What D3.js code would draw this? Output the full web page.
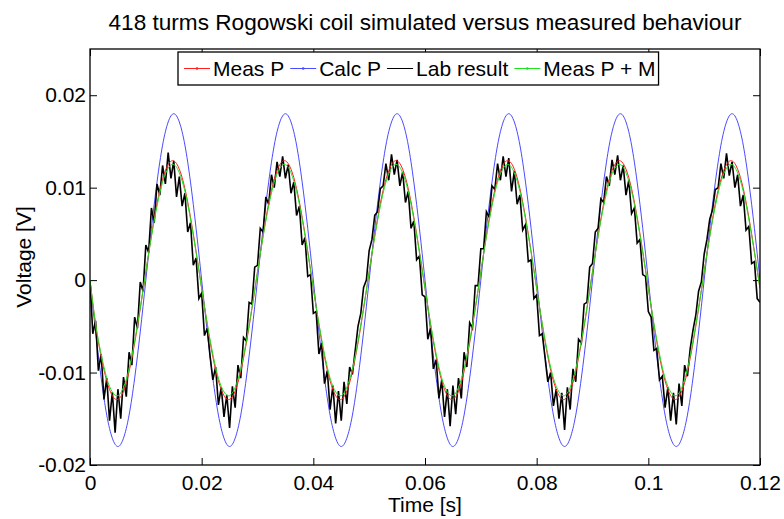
<!DOCTYPE html>
<html>
<head>
<meta charset="utf-8">
<script src="https://cdn.jsdelivr.net/npm/d3@7"></script>
<style>
  body { margin: 0; background: #fff; }
  svg text { font-family: "Liberation Sans", Arial, sans-serif; }
</style>
</head>
<body>
<svg id="chart"></svg>
<script>
//// DATA

// sample steps of the two kinds of series
const dtModel = 0.001;
const dtLab = 0.0005;

const xTicks = [0, 0.02, 0.04, 0.06, 0.08, 0.1, 0.12];
const yTicks = [-0.02, -0.01, 0, 0.01, 0.02];

// Calc P (blue)
const calcP = [
  0, -0.0056, -0.0106, -0.0146, -0.0171, -0.0180, -0.0171, -0.0146, -0.0106, -0.0056,
  0, 0.0056, 0.0106, 0.0146, 0.0171, 0.0180, 0.0171, 0.0146, 0.0106, 0.0056,
  0, -0.0056, -0.0106, -0.0146, -0.0171, -0.0180, -0.0171, -0.0146, -0.0106, -0.0056,
  0, 0.0056, 0.0106, 0.0146, 0.0171, 0.0180, 0.0171, 0.0146, 0.0106, 0.0056,
  0, -0.0056, -0.0106, -0.0146, -0.0171, -0.0180, -0.0171, -0.0146, -0.0106, -0.0056,
  0, 0.0056, 0.0106, 0.0146, 0.0171, 0.0180, 0.0171, 0.0146, 0.0106, 0.0056,
  0, -0.0056, -0.0106, -0.0146, -0.0171, -0.0180, -0.0171, -0.0146, -0.0106, -0.0056,
  0, 0.0056, 0.0106, 0.0146, 0.0171, 0.0180, 0.0171, 0.0146, 0.0106, 0.0056,
  0, -0.0056, -0.0106, -0.0146, -0.0171, -0.0180, -0.0171, -0.0146, -0.0106, -0.0056,
  0, 0.0056, 0.0106, 0.0146, 0.0171, 0.0180, 0.0171, 0.0146, 0.0106, 0.0056,
  0, -0.0056, -0.0106, -0.0146, -0.0171, -0.0180, -0.0171, -0.0146, -0.0106, -0.0056,
  0, 0.0056, 0.0106, 0.0146, 0.0171, 0.0180, 0.0171, 0.0146, 0.0106, 0.0056,
  0
];

// Meas P (red)
const measP = [
  0, -0.0048, -0.0083, -0.0109, -0.0125, -0.0129, -0.0120, -0.0099, -0.0068, -0.0031,
  0.0009, 0.0048, 0.0083, 0.0109, 0.0125, 0.0129, 0.0120, 0.0099, 0.0068, 0.0031,
  -0.0009, -0.0048, -0.0083, -0.0109, -0.0125, -0.0129, -0.0120, -0.0099, -0.0068, -0.0031,
  0.0009, 0.0048, 0.0083, 0.0109, 0.0125, 0.0129, 0.0120, 0.0099, 0.0068, 0.0031,
  -0.0009, -0.0048, -0.0083, -0.0109, -0.0125, -0.0129, -0.0120, -0.0099, -0.0068, -0.0031,
  0.0009, 0.0048, 0.0083, 0.0109, 0.0125, 0.0129, 0.0120, 0.0099, 0.0068, 0.0031,
  -0.0009, -0.0048, -0.0083, -0.0109, -0.0125, -0.0129, -0.0120, -0.0099, -0.0068, -0.0031,
  0.0009, 0.0048, 0.0083, 0.0109, 0.0125, 0.0129, 0.0120, 0.0099, 0.0068, 0.0031,
  -0.0009, -0.0048, -0.0083, -0.0109, -0.0125, -0.0129, -0.0120, -0.0099, -0.0068, -0.0031,
  0.0009, 0.0048, 0.0083, 0.0109, 0.0125, 0.0129, 0.0120, 0.0099, 0.0068, 0.0031,
  -0.0009, -0.0048, -0.0083, -0.0109, -0.0125, -0.0129, -0.0120, -0.0099, -0.0068, -0.0031,
  0.0009, 0.0048, 0.0083, 0.0109, 0.0125, 0.0129, 0.0120, 0.0099, 0.0068, 0.0031,
  -0.0009
];

// Meas P + M (green)
const measPM = [
  0, -0.0047, -0.0080, -0.0106, -0.0121, -0.0125, -0.0116, -0.0096, -0.0066, -0.0030,
  0.0009, 0.0047, 0.0080, 0.0106, 0.0121, 0.0125, 0.0116, 0.0096, 0.0066, 0.0030,
  -0.0009, -0.0047, -0.0080, -0.0106, -0.0121, -0.0125, -0.0116, -0.0096, -0.0066, -0.0030,
  0.0009, 0.0047, 0.0080, 0.0106, 0.0121, 0.0125, 0.0116, 0.0096, 0.0066, 0.0030,
  -0.0009, -0.0047, -0.0080, -0.0106, -0.0121, -0.0125, -0.0116, -0.0096, -0.0066, -0.0030,
  0.0009, 0.0047, 0.0080, 0.0106, 0.0121, 0.0125, 0.0116, 0.0096, 0.0066, 0.0030,
  -0.0009, -0.0047, -0.0080, -0.0106, -0.0121, -0.0125, -0.0116, -0.0096, -0.0066, -0.0030,
  0.0009, 0.0047, 0.0080, 0.0106, 0.0121, 0.0125, 0.0116, 0.0096, 0.0066, 0.0030,
  -0.0009, -0.0047, -0.0080, -0.0106, -0.0121, -0.0125, -0.0116, -0.0096, -0.0066, -0.0030,
  0.0009, 0.0047, 0.0080, 0.0106, 0.0121, 0.0125, 0.0116, 0.0096, 0.0066, 0.0030,
  -0.0009, -0.0047, -0.0080, -0.0106, -0.0121, -0.0125, -0.0116, -0.0096, -0.0066, -0.0030,
  0.0009, 0.0047, 0.0080, 0.0106, 0.0121, 0.0125, 0.0116, 0.0096, 0.0066, 0.0030,
  -0.0009
];

// Lab result (black, noisy scope trace)
const labResult = [
  0.0000, -0.0058, -0.0044, -0.0098, -0.0080, -0.0129, -0.0106, -0.0152, -0.0121, -0.0165,
  -0.0118, -0.0150, -0.0105, -0.0126, -0.0078, -0.0092, -0.0040, -0.0052, -0.0002, -0.0012,
  0.0038, 0.0030, 0.0078, 0.0062, 0.0104, 0.0092, 0.0124, 0.0104, 0.0138, 0.0110,
  0.0129, 0.0090, 0.0112, 0.0080, 0.0094, 0.0052, 0.0062, 0.0016, 0.0024, -0.0020,
  -0.0014, -0.0060, -0.0052, -0.0082, -0.0108, -0.0094, -0.0135, -0.0116, -0.0148, -0.0124,
  -0.0160, -0.0115, -0.0138, -0.0092, -0.0106, -0.0062, -0.0066, -0.0024, -0.0026, 0.0014,
  0.0016, 0.0056, 0.0052, 0.0090, 0.0082, 0.0114, 0.0100, 0.0128, 0.0112, 0.0134,
  0.0110, 0.0125, 0.0094, 0.0106, 0.0070, 0.0080, 0.0038, 0.0046, 0.0004, 0.0006,
  -0.0036, -0.0034, -0.0080, -0.0068, -0.0112, -0.0098, -0.0140, -0.0114, -0.0155, -0.0120,
  -0.0152, -0.0110, -0.0134, -0.0094, -0.0102, -0.0076, -0.0050, -0.0036, -0.0008, 0.0000,
  0.0032, 0.0044, 0.0070, 0.0074, 0.0099, 0.0102, 0.0126, 0.0108, 0.0136, 0.0114,
  0.0130, 0.0102, 0.0117, 0.0084, 0.0096, 0.0056, 0.0064, 0.0022, 0.0026, -0.0016,
  -0.0018, -0.0064, -0.0052, -0.0096, -0.0086, -0.0128, -0.0108, -0.0148, -0.0118, -0.0158,
  -0.0114, -0.0145, -0.0106, -0.0128, -0.0078, -0.0094, -0.0046, -0.0052, -0.0006, -0.0006,
  0.0034, 0.0034, 0.0074, 0.0068, 0.0102, 0.0098, 0.0126, 0.0108, 0.0134, 0.0112,
  0.0132, 0.0096, 0.0118, 0.0082, 0.0092, 0.0054, 0.0060, 0.0020, 0.0022, -0.0020,
  -0.0016, -0.0060, -0.0058, -0.0084, -0.0110, -0.0100, -0.0136, -0.0118, -0.0150, -0.0122,
  -0.0162, -0.0116, -0.0140, -0.0096, -0.0110, -0.0064, -0.0068, -0.0026, -0.0024, 0.0014,
  0.0018, 0.0052, 0.0056, 0.0088, 0.0084, 0.0112, 0.0102, 0.0130, 0.0114, 0.0135,
  0.0108, 0.0124, 0.0092, 0.0108, 0.0072, 0.0078, 0.0040, 0.0044, 0.0006, 0.0004,
  -0.0034, -0.0040, -0.0076, -0.0074, -0.0108, -0.0104, -0.0138, -0.0116, -0.0152, -0.0122,
  -0.0156, -0.0112, -0.0136, -0.0092, -0.0104, -0.0074, -0.0054, -0.0038, -0.0012, -0.0002,
  0.0028, 0.0044, 0.0066, 0.0076, 0.0098, 0.0100, 0.0126, 0.0110, 0.0137, 0.0113,
  0.0128, 0.0100, 0.0114, 0.0080, 0.0092, 0.0054, 0.0058, 0.0018, 0.0020, -0.0020,
  -0.0024
];

const seriesNames = ["Meas P", "Calc P", "Lab result", "Meas P + M"];
const seriesColors = ["#ff2020", "#4a4aff", "#000000", "#20e020"];
const seriesWidths = [1, 1, 1.6, 1];
const seriesDots = [true, true, false, true];

const titleText = "418 turms Rogowski coil simulated versus measured behaviour";
const xLabel = "Time [s]";
const yLabel = "Voltage [V]";

//// SETTINGS

const width = 784;
const height = 519;
const box = { left: 90, right: 760, top: 49, bottom: 465 };
const fontSize = 21;
const titleSize = 22.6;
const tickLen = 7;

const svg = d3.select("#chart").attr("width", width).attr("height", height);

const x = d3.scaleLinear().domain([0, 0.12]).range([box.left, box.right]);
const y = d3.scaleLinear().domain([-0.02, 0.025]).range([box.bottom, box.top]);

const fmt = d => String(+d.toFixed(3));

//// AXES

svg.append("clipPath").attr("id", "plotclip")
  .append("rect")
  .attr("x", box.left).attr("y", box.top)
  .attr("width", box.right - box.left).attr("height", box.bottom - box.top);

function styleAxis(g) {
  g.select(".domain").remove();
  g.selectAll(".tick line").attr("stroke", "#000");
  g.selectAll(".tick text")
    .attr("fill", "#000")
    .style("font-size", fontSize + "px")
    .style("font-family", '"Liberation Sans", Arial, sans-serif');
}

svg.append("g")
  .attr("transform", `translate(0,${box.bottom})`)
  .call(d3.axisBottom(x).tickValues(xTicks).tickFormat(fmt).tickSizeInner(-tickLen).tickSizeOuter(0).tickPadding(10))
  .call(styleAxis);

svg.append("g")
  .attr("transform", `translate(0,${box.top})`)
  .call(d3.axisTop(x).tickValues(xTicks).tickFormat("").tickSizeInner(-tickLen).tickSizeOuter(0))
  .call(styleAxis);

svg.append("g")
  .attr("transform", `translate(${box.left},0)`)
  .call(d3.axisLeft(y).tickValues(yTicks).tickFormat(fmt).tickSizeInner(-tickLen).tickSizeOuter(0).tickPadding(4))
  .call(styleAxis);

svg.append("g")
  .attr("transform", `translate(${box.right},0)`)
  .call(d3.axisRight(y).tickValues(yTicks).tickFormat("").tickSizeInner(-tickLen).tickSizeOuter(0))
  .call(styleAxis);

//// LINES

const plot = svg.append("g").attr("clip-path", "url(#plotclip)");

const smooth = d3.line()
  .x((d, i) => x(i * dtModel))
  .y(d => y(d))
  .curve(d3.curveNatural);

const jagged = d3.line()
  .x((d, i) => x(i * dtLab))
  .y(d => y(d));

plot.append("path").datum(calcP)
  .attr("d", smooth).attr("fill", "none")
  .attr("stroke", seriesColors[1]).attr("stroke-width", seriesWidths[1]);

plot.append("path").datum(labResult)
  .attr("d", jagged).attr("fill", "none")
  .attr("stroke", seriesColors[2]).attr("stroke-width", seriesWidths[2]);

plot.append("path").datum(measP)
  .attr("d", smooth).attr("fill", "none")
  .attr("stroke", seriesColors[0]).attr("stroke-width", seriesWidths[0]);

plot.append("path").datum(measPM)
  .attr("d", smooth).attr("fill", "none")
  .attr("stroke", seriesColors[3]).attr("stroke-width", seriesWidths[3]);

// frame
svg.append("rect")
  .attr("x", box.left).attr("y", box.top)
  .attr("width", box.right - box.left).attr("height", box.bottom - box.top)
  .attr("fill", "none").attr("stroke", "#000").attr("stroke-width", 1.3);

//// TEXTS

svg.append("text")
  .attr("x", (box.left + box.right) / 2).attr("y", 30)
  .attr("text-anchor", "middle")
  .style("font-size", titleSize + "px")
  .text(titleText);

svg.append("text")
  .attr("x", (box.left + box.right) / 2).attr("y", 512)
  .attr("text-anchor", "middle")
  .style("font-size", fontSize + "px")
  .text(xLabel);

svg.append("text")
  .attr("transform", `translate(31,${(box.top + box.bottom) / 2}) rotate(-90)`)
  .attr("text-anchor", "middle")
  .style("font-size", fontSize + "px")
  .text(yLabel);

//// LEGEND

const legend = svg.append("g");
const legendBox = legend.append("rect")
  .attr("x", 178).attr("y", 52).attr("height", 33)
  .attr("fill", "#fff").attr("stroke", "#000").attr("stroke-width", 1.3);

let lx = 184;
const ly = 68.5;
seriesNames.forEach((name, i) => {
  legend.append("line")
    .attr("x1", lx).attr("x2", lx + 26).attr("y1", ly).attr("y2", ly)
    .attr("stroke", seriesColors[i]).attr("stroke-width", 1);
  if (seriesDots[i]) {
    legend.append("circle")
      .attr("cx", lx + 13).attr("cy", ly).attr("r", 1.3)
      .attr("fill", seriesColors[i]);
  }
  const t = legend.append("text")
    .attr("x", lx + 29).attr("y", ly + 7.5)
    .style("font-size", fontSize + "px")
    .text(name);
  lx += 29 + t.node().getComputedTextLength() + 6;
});
legendBox.attr("width", lx - 178 - 3);
</script>
</body>
</html>
